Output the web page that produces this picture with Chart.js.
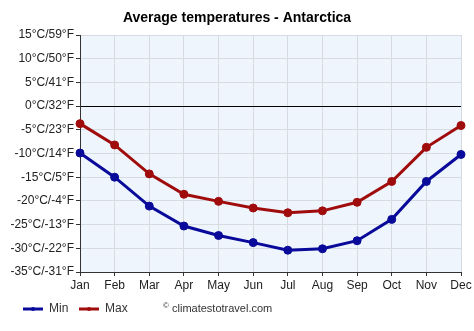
<!DOCTYPE html>
<html>
<head>
<meta charset="utf-8">
<script src="https://cdn.jsdelivr.net/npm/chart.js@4/dist/chart.umd.min.js"></script>
<style>
  html, body { margin: 0; padding: 0; background: #fff; }
  #wrap { width: 474px; height: 331px; }
</style>
</head>
<body>
<div id="wrap"><canvas id="chart" width="474" height="331"></canvas></div>
<script>
const months = ['Jan', 'Feb', 'Mar', 'Apr', 'May', 'Jun', 'Jul', 'Aug', 'Sep', 'Oct', 'Nov', 'Dec'];
const minTemps = [-9.9, -15.0, -21.1, -25.3, -27.3, -28.8, -30.4, -30.1, -28.4, -23.9, -15.9, -10.2];
const maxTemps = [-3.7, -8.2, -14.3, -18.6, -20.1, -21.5, -22.5, -22.1, -20.3, -15.9, -8.7, -4.1];
const yTicks = [15, 10, 5, 0, -5, -10, -15, -20, -25, -30, -35];

const chartTitle = 'Average temperatures - Antarctica';
const credit = 'climatestotravel.com';
const font = '"Liberation Sans", Arial, sans-serif';

// background of the plot area, title, legend and credit line
const extras = {
  id: 'extras',
  beforeDraw(chart) {
    const { ctx, chartArea: a } = chart;
    ctx.save();
    ctx.fillStyle = '#eef5fd';
    ctx.fillRect(a.left, a.top, a.right - a.left, a.bottom - a.top);
    ctx.restore();
  },
  afterDraw(chart) {
    const ctx = chart.ctx;
    ctx.save();
    ctx.fillStyle = '#000';
    ctx.font = 'bold 14px ' + font;
    ctx.textAlign = 'center';
    ctx.textBaseline = 'middle';
    ctx.fillText(chartTitle, 237, 18);

    ctx.font = '12px ' + font;
    ctx.textAlign = 'left';
    let x = 23;
    const y = 309;
    chart.data.datasets.forEach(ds => {
      ctx.strokeStyle = ds.borderColor;
      ctx.lineWidth = 3;
      ctx.beginPath();
      ctx.moveTo(x, y);
      ctx.lineTo(x + 20, y);
      ctx.stroke();
      ctx.fillStyle = ds.borderColor;
      ctx.beginPath();
      ctx.arc(x + 10, y, 2, 0, Math.PI * 2);
      ctx.fill();
      ctx.fillStyle = '#333';
      ctx.fillText(ds.label, x + 26, y);
      x += 56;
    });
    ctx.fillStyle = '#333';
    ctx.font = '8px ' + font;
    ctx.fillText('©', 163, y - 3);
    ctx.font = '11px ' + font;
    ctx.fillText(credit, 172, y);
    ctx.restore();
  }
};

new Chart(document.getElementById('chart'), {
  type: 'line',
  data: {
    labels: months,
    datasets: [{
      label: 'Min',
      data: minTemps,
      borderColor: '#0a0a9a',
      backgroundColor: '#0a0a9a',
      borderWidth: 3,
      pointRadius: 4,
      pointBorderWidth: 1,
      pointHoverRadius: 4,
      tension: 0
    }, {
      label: 'Max',
      data: maxTemps,
      borderColor: '#a00c0c',
      backgroundColor: '#a00c0c',
      borderWidth: 3,
      pointRadius: 4,
      pointBorderWidth: 1,
      pointHoverRadius: 4,
      tension: 0
    }]
  },
  options: {
    responsive: false,
    animation: false,
    layout: { padding: { top: 35, right: 13, bottom: 34, left: 0 } },
    plugins: {
      legend: { display: false },
      title: { display: false },
      tooltip: { enabled: false }
    },
    scales: {
      x: {
        type: 'category',
        offset: false,
        afterFit(scale) { scale.height = 25; },
        grid: { color: '#d6dbe2', tickColor: '#333', tickLength: 4 },
        border: { color: '#333', width: 1 },
        ticks: { color: '#222', font: { family: font, size: 12 }, padding: 2, maxRotation: 0 }
      },
      y: {
        min: Math.min(...yTicks),
        max: Math.max(...yTicks),
        afterFit(scale) { scale.width = 80; },
        afterBuildTicks(scale) { scale.ticks = yTicks.map(v => ({ value: v })); },
        grid: {
          color: c => c.tick && c.tick.value === 0 ? '#000' : '#d6dbe2',
          tickColor: '#333',
          tickLength: 4
        },
        border: { color: '#333', width: 1 },
        ticks: {
          color: '#222',
          font: { family: font, size: 12 },
          padding: 2,
          callback: v => v + '°C/' + Math.round(v * 9 / 5 + 32) + '°F'
        }
      }
    }
  },
  plugins: [extras]
});
</script>
</body>
</html>
